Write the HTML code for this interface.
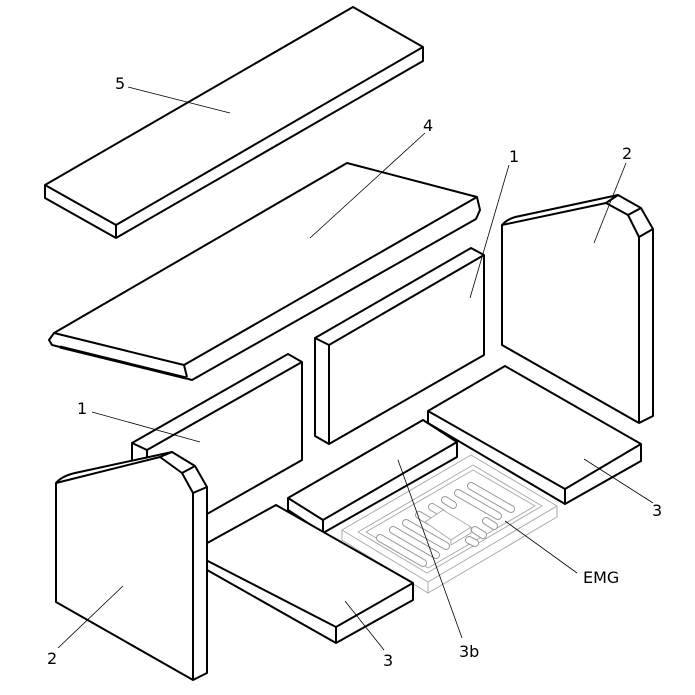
<!DOCTYPE html>
<html><head><meta charset="utf-8"><style>html,body{margin:0;padding:0;background:#fff}svg{display:block}text{font-family:"DejaVu Sans","Liberation Sans",sans-serif;font-size:16px;fill:#000}</style></head><body>
<svg width="695" height="695" viewBox="0 0 695 695" xmlns="http://www.w3.org/2000/svg">
<g fill="#fff" stroke="#000" stroke-width="2" stroke-linejoin="round">
<polygon points="45,185 353,7 423,47 423,61 116,238 45,198"/>
<polyline fill="none" points="45,185 116,225 423,47"/>
<line x1="116" y1="225" x2="116" y2="238"/>
<polygon points="54,333 347,163 477,197 480,210 476,219 192,380 185,378 52,345 49,340"/>
<polyline fill="none" points="54,333 184,365 477,197"/>
<line x1="184" y1="365" x2="187" y2="377"/>
<line x1="60" y1="347" x2="186" y2="378" stroke-width="3"/>
<path d="M502,225 Q508,218 520,216 L618,195 L641,208 L653,229 L653,416 L639,423 L502,345 Z"/>
<polyline fill="none" points="502,225 606,203 628,215 639,237 639,423"/>
<line x1="618" y1="195" x2="606" y2="203"/><line x1="641" y1="208" x2="628" y2="215"/><line x1="653" y1="229" x2="639" y2="237"/>
<polygon points="315,338 471,248 484,255 484,355 329,444 315,436"/>
<polyline fill="none" points="315,338 329,345 484,255"/>
<line x1="329" y1="345" x2="329" y2="444"/>
<polygon points="428,411 505,366 641,444 641,461 565,504 428,423"/>
<polyline fill="none" points="428,411 565,489 641,444"/>
<line x1="565" y1="489" x2="565" y2="504"/>
</g>
<g fill="#fff" stroke="#aaa" stroke-width="1" stroke-linejoin="round">
<polygon points="342,530 471,455 557,506 557,517 428,593 342,540"/>
<polyline fill="none" points="342,530 428,582 557,506"/><line x1="428" y1="582" x2="428" y2="593"/>
<polygon points="358,532 473,465 542,506 427,573"/>
<polygon points="366,532 473,470 535,506 428,568"/>
<g stroke-linecap="round" fill="none">
<g stroke="#999" stroke-width="8">
<path d="M380,538 l43,25 M393,530 l43,25 M406,523 l40,23 M419,515 l12,7 M432,507 l10,6 M445,500 l8,5 M458,493 l40,23 M471,486 l40,23 M469,540 l6,3 M475,530 l8,5 M486,521 l8,5"/>
</g>
<g stroke="#fff" stroke-width="6">
<path d="M380,538 l43,25 M393,530 l43,25 M406,523 l40,23 M419,515 l12,7 M432,507 l10,6 M445,500 l8,5 M458,493 l40,23 M471,486 l40,23 M469,540 l6,3 M475,530 l8,5 M486,521 l8,5"/>
</g></g>
<polygon points="425,522 443,510 471,527 451,540" fill="#fff"/>
<polyline fill="none" points="451,540 451,545 471,533 471,527"/>
</g>
<g fill="#fff" stroke="#000" stroke-width="2" stroke-linejoin="round">
<polygon points="288,498 423,420 457,442 457,457 323,533 288,510"/>
<polyline fill="none" points="288,498 323,520 457,442"/>
<line x1="323" y1="520" x2="323" y2="533"/>
<polygon points="132,443 288,354 302,362 302,460 200,518 132,480"/>
<polyline fill="none" points="132,443 147,450 302,362"/>
<line x1="147" y1="450" x2="147" y2="470"/>
<polygon points="200,547 276,505 413,583 413,600 336,643 200,566"/>
<polyline fill="none" points="200,557 336,627 413,583"/>
<line x1="336" y1="627" x2="336" y2="643"/>
<path d="M56,483 Q62,476 75,473 L172,452 L195,466 L207,487 L207,673 L193,680 L56,602 Z"/>
<polyline fill="none" points="56,483 160,457 182,473 193,493 193,680"/>
<line x1="172" y1="452" x2="160" y2="457"/><line x1="195" y1="466" x2="182" y2="473"/><line x1="207" y1="487" x2="193" y2="493"/>
</g>
<g stroke="#000" stroke-width="0.8">
<line x1="128" y1="87" x2="230" y2="113"/>
<line x1="425" y1="133" x2="310" y2="238"/>
<line x1="509" y1="165" x2="470" y2="298"/>
<line x1="626" y1="163" x2="594" y2="243"/>
<line x1="92" y1="412" x2="200" y2="442"/>
<line x1="58" y1="648" x2="123" y2="586"/>
<line x1="384" y1="650" x2="345" y2="601"/>
<line x1="462" y1="638" x2="398" y2="460"/>
<line x1="577" y1="573" x2="505" y2="521"/>
<line x1="653" y1="503" x2="584" y2="459"/>
</g>
<text x="115" y="89">5</text>
<text x="423" y="131">4</text>
<text x="509" y="162">1</text>
<text x="622" y="159">2</text>
<text x="77" y="414">1</text>
<text x="47" y="664">2</text>
<text x="383" y="666">3</text>
<text x="459" y="657">3b</text>
<text x="583" y="583">EMG</text>
<text x="652" y="516">3</text>
</svg>
</body></html>
